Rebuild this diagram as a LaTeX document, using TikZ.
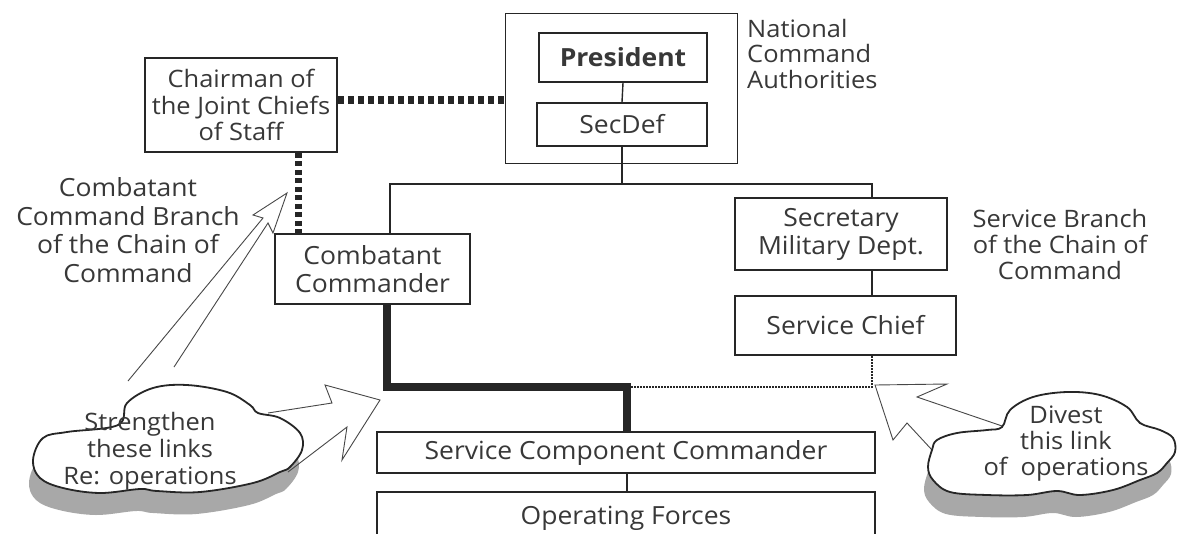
\documentclass[tikz,border=0pt]{standalone}
\usepackage{fontspec}
\setmainfont{Open Sans}[FakeStretch=1.06]
\definecolor{ink}{HTML}{262626}
\definecolor{txt}{HTML}{383838}
\definecolor{shade}{HTML}{A8A8A8}
\tikzset{
  box/.style={draw=ink, line width=1.7pt, fill=white, inner sep=2pt, align=center,
              text=txt, font=\fontsize{25}{28}\selectfont},
  label/.style={inner sep=0pt, align=center, text=txt},
  link/.style={draw=ink, line width=1.4pt},
  heavy/.style={draw=ink, line width=8pt, line join=miter},
  advise/.style={draw=ink, line width=8pt, dash pattern=on 6.5pt off 3.5pt},
  advisev/.style={draw=ink, line width=7pt, dash pattern=on 5pt off 3.5pt},
  weak/.style={draw=ink, line width=1.5pt, dash pattern=on 1.6pt off 1.4pt},
  hollow/.style={draw=ink!85, line width=0.9pt, line join=miter},
  cloudline/.style={draw=ink, line width=1.8pt, fill=white},
  cloudshade/.style={fill=shade},
}
\begin{document}
\begin{tikzpicture}[x=1pt,y=-1pt]
\useasboundingbox (0,0) rectangle (1177,533);
\fill[white] (0,0) rectangle (1177,533);
\clip (0,0) rectangle (1177,533);

% National Command Authorities
\node[draw=ink, line width=0.9pt, minimum width=232, minimum height=150, inner sep=0pt] (nca) at (621,88) {};
\node[box, minimum width=168, minimum height=49] (pres) at (623,57.5) {\textbf{President}};
\node[box, minimum width=170, minimum height=43] (secdef) at (622,124.5) {SecDef};
\node[label, anchor=north west, font=\fontsize{24}{25.5}\selectfont, align=left] (ncalbl) at (747,19) {National\\Command\\Authorities};

% Chairman and the two branches
\node[box, minimum width=192, minimum height=94, font=\fontsize{24}{26.5}\selectfont] (cjcs) at (241,105) {Chairman of\\the Joint Chiefs\\of Staff};
\node[box, minimum width=195, minimum height=70] (cc) at (372.5,269) {Combatant\\Commander};
\node[box, minimum width=212, minimum height=72] (smd) at (841,234) {Secretary\\Military Dept.};
\node[box, minimum width=221, minimum height=59] (sc) at (845.5,325.5) {Service Chief};
\node[box, minimum width=498, minimum height=41] (scc) at (626,452.5) {Service Component Commander};
\node[box, minimum width=498, minimum height=53] (opf) at (626,518.5) {Operating Forces};

\node[label, font=\fontsize{25}{28.5}\selectfont] (ccbranch) at (128,230) {Combatant\\Command Branch\\of the Chain of\\Command};
\node[label, font=\fontsize{24}{26}\selectfont] (svbranch) at (1060,244) {Service Branch\\of the Chain of\\Command};

% junction points of the chain of command
\coordinate (hubL) at (390,184);
\coordinate (hubR) at (872,184);
\coordinate (jL) at (387,387);
\coordinate (jM) at (627,387);
\coordinate (jR) at (872,387);
\coordinate (advY) at (0,100);
\coordinate (advX) at (298,0);

\draw[link] (pres.south) -- (secdef.north);
\draw[link] (secdef.south) -- (secdef.south |- hubL);
\draw[link] (cc.north -| hubL) |- (hubR) -- (smd.north -| hubR);
\draw[link] (smd.south -| hubR) -- (sc.north -| hubR);
\draw[link] (scc.south -| jM) -- (opf.north -| jM);
\draw[heavy] (cc.south -| jL) -- (jL) -- (jM) -- (scc.north -| jM);
\draw[weak] ([xshift=4pt]jM) -- (jR) -- (sc.south -| jR);
\draw[advise] (cjcs.east |- advY) -- (nca.west |- advY);
\draw[advisev] (cjcs.south -| advX) -- (cc.north -| advX);

% cloud shadows
\begin{scope}[shift={(-4,22)}]
\fill[cloudshade] plot[smooth cycle, tension=0.6] coordinates {
  (33,460) (43,438) (67,432) (118,425) (127,403) (153,388) (187,385) (227,392) (250,405)
  (258,413) (280,418) (300,433) (302,450) (290,467) (280,472) (253,483) (200,492)
  (157,491) (140,489) (100,493) (63,488) (40,478)};
\fill[cloudshade] plot[smooth cycle, tension=0.6] coordinates {
  (932,450) (937,440) (957,433) (987,430) (1002,427) (1010,410) (1033,397) (1067,392)
  (1100,395) (1127,407) (1140,423) (1160,430) (1173,438) (1175,452) (1167,463) (1157,473)
  (1140,480) (1113,490) (1080,495) (1057,491) (1027,495) (987,495) (950,492) (933,480) (928,467)};
\end{scope}

% hollow arrows
\draw[hollow] (128,381) -- (263,218) -- (253,215) -- (287,193) -- (273,233) -- (268,223) -- (174,367);
\draw[hollow] (268,413) -- (332,403) -- (325,385) -- (380,400) -- (342,460) -- (347,427) -- (288,472);
\draw[hollow] (1005,427) -- (917,397) -- (947,384) -- (875,385) -- (893,440) -- (907,423) -- (932,450);

% clouds
\draw[cloudline] plot[smooth cycle, tension=0.6] coordinates {
  (33,460) (43,438) (67,432) (118,425) (127,403) (153,388) (187,385) (227,392) (250,405)
  (258,413) (280,418) (300,433) (302,450) (290,467) (280,472) (253,483) (200,492)
  (157,491) (140,489) (100,493) (63,488) (40,478)};
\draw[cloudline] plot[smooth cycle, tension=0.6] coordinates {
  (932,450) (937,440) (957,433) (987,430) (1002,427) (1010,410) (1033,397) (1067,392)
  (1100,395) (1127,407) (1140,423) (1160,430) (1173,438) (1175,452) (1167,463) (1157,473)
  (1140,480) (1113,490) (1080,495) (1057,491) (1027,495) (987,495) (950,492) (933,480) (928,467)};
\node[label, font=\fontsize{24}{27}\selectfont] (strengthen) at (150,451) {Strengthen\\these links\\Re: operations};
\node[label, font=\fontsize{24}{26}\selectfont] (divest) at (1066,444) {Divest\\this link\\of~ operations};
\end{tikzpicture}
\end{document}
